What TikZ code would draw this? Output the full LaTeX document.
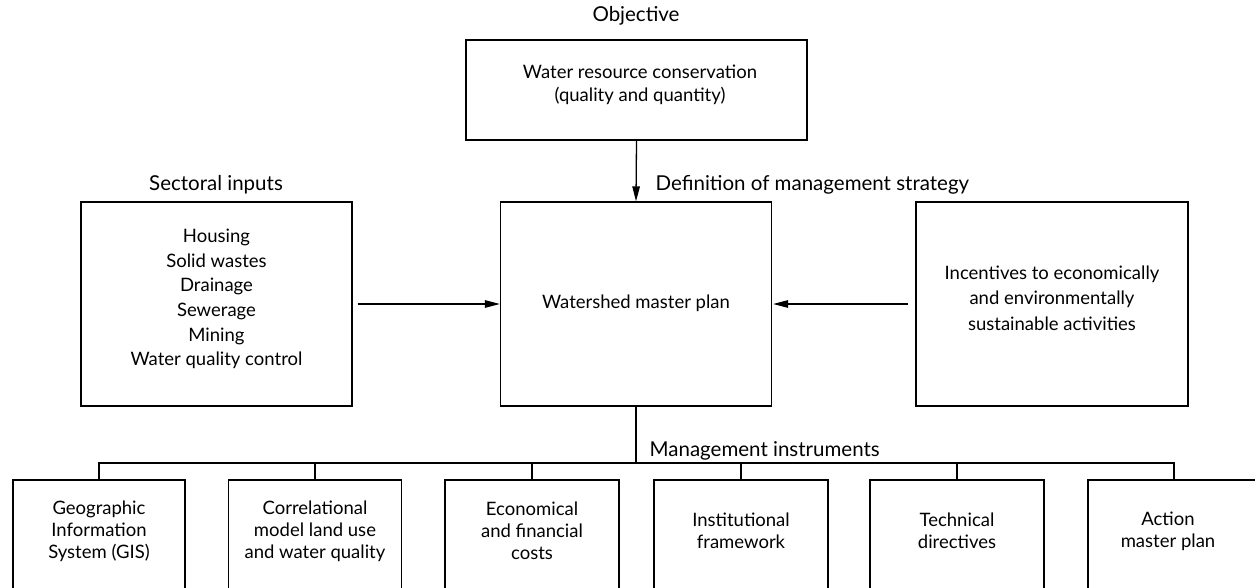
\documentclass[tikz,border=0pt]{standalone}
\usepackage{fontspec}
\setmainfont{Lato}
\usetikzlibrary{arrows.meta}
\begin{document}
\begin{tikzpicture}[x=1pt,y=-1pt,line width=1.3pt,
  box/.style={draw,rectangle,inner sep=0pt},
  txt/.style={align=center,inner sep=0pt,font=\fontsize{18.5}{23}\selectfont},
  lbl/.style={inner sep=0pt,font=\fontsize{20.5}{24}\selectfont},
  arr/.style={-{Triangle[length=15pt,width=7.5pt]}}]
\useasboundingbox (0,0) rectangle (1255,588);
\clip (0,0) rectangle (1255,588);
% labels
\node[lbl,anchor=base] (lobj) at (636,22) {Objective};
\node[lbl,anchor=base] (lsec) at (216,190) {Sectoral inputs};
\node[lbl,anchor=base west] (ldef) at (655,190) {Definition of management strategy};
\node[lbl,anchor=base west] (lman) at (649,456) {Management instruments};
% top box
\node[box,minimum width=341,minimum height=100] (obj) at (636.5,90) {};
\node[txt] (objt) at (640,85) {Water resource conservation\\(quality and quantity)};
% middle row
\node[box,minimum width=271,minimum height=204] (sec) at (216.5,304) {};
\node[txt,font=\fontsize{18.5}{24.6}\selectfont] (sect) at (216.5,299) {Housing\\Solid wastes\\Drainage\\Sewerage\\Mining\\Water quality control};
\node[box,minimum width=271,minimum height=204] (wmp) at (636,304) {};
\node[txt] (wmpt) at (636,303) {Watershed master plan};
\node[box,minimum width=272,minimum height=204] (inc) at (1052,304) {};
\node[txt,font=\fontsize{18.5}{25.5}\selectfont] (inct) at (1052,298) {Incentives to economically\\and environmentally\\sustainable activities};
% arrows
\draw[arr] (obj.south) -- (wmp.north);
\draw[arr,shorten <=5pt] (sec.east) -- (wmp.west);
\draw[arr,shorten <=7pt,shorten >=1pt] (inc.west) -- (wmp.east);
% bottom boxes
\node[box,minimum width=172,minimum height=140] (b1) at (99,550) {};
\node[box,minimum width=173,minimum height=140] (b2) at (315,550) {};
\node[box,minimum width=174,minimum height=140] (b3) at (532,550) {};
\node[box,minimum width=174,minimum height=140] (b4) at (741,550) {};
\node[box,minimum width=174,minimum height=140] (b5) at (957,550) {};
\node[box,minimum width=172,minimum height=140] (b6) at (1174,550) {};
\node[txt,font=\fontsize{18.5}{22}\selectfont] (t1) at (99,531) {Geographic\\Information\\System (GIS)};
\node[txt,font=\fontsize{18.5}{22}\selectfont] (t2) at (315,531) {Correlational\\model land use\\and water quality};
\node[txt,font=\fontsize{18.5}{22}\selectfont] (t3) at (532,531) {Economical\\and financial\\costs};
\node[txt,font=\fontsize{18.5}{22}\selectfont] (t4) at (741,531) {Institutional\\framework};
\node[txt,font=\fontsize{18.5}{22}\selectfont] (t5) at (957,531) {Technical\\directives};
\node[txt,font=\fontsize{18.5}{22}\selectfont] (t6) at (1168,531) {Action\\master plan};
% tree connectors
\coordinate (bus) at (636,463);
\draw (wmp.south) -- (wmp.south |- bus);
\draw (b1.north) -- (b1.north |- bus) -- (b6.north |- bus) -- (b6.north);
\foreach \b in {b2,b3,b4,b5} \draw (\b.north) -- (\b.north |- bus);
\end{tikzpicture}
\end{document}
